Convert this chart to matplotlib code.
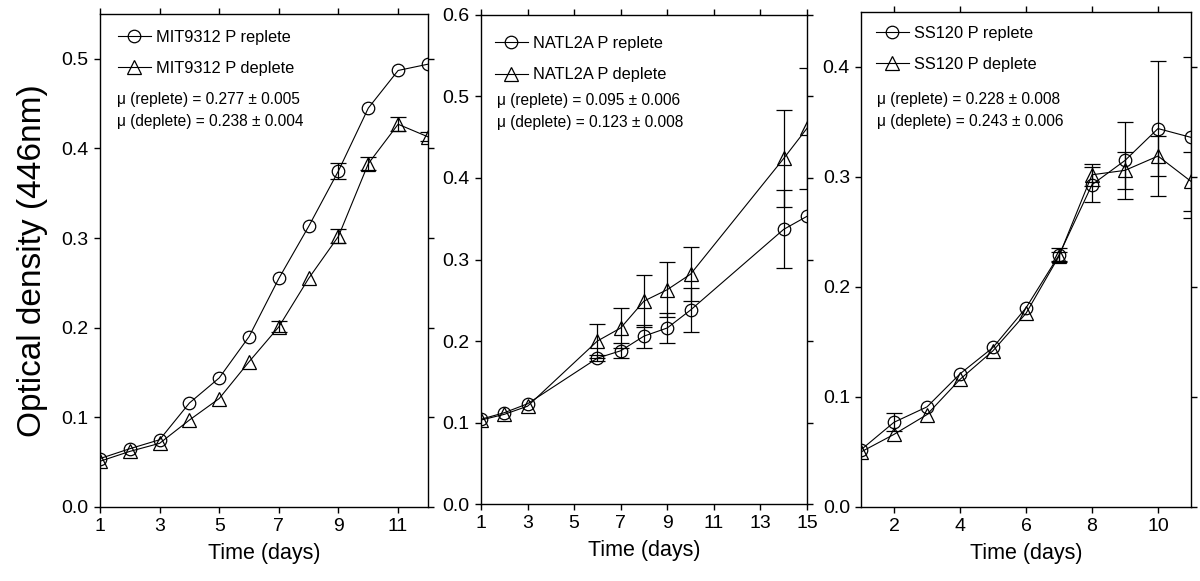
import matplotlib
matplotlib.use("Agg")
import matplotlib.pyplot as plt
import numpy as np

plt.rcParams['font.family'] = ['Liberation Sans', 'DejaVu Sans']

nan = np.nan

# MIT9312
mit_days = [1, 2, 3, 4, 5, 6, 7, 8, 9, 10, 11, 12]
mit_rep = [0.054, 0.065, 0.075, 0.116, 0.144, 0.190, 0.255, 0.313, 0.375, 0.445, 0.487, 0.494]
mit_rep_err = [nan, nan, nan, nan, nan, nan, nan, nan, 0.009, nan, nan, nan]
mit_dep = [0.051, 0.062, 0.071, 0.097, 0.121, 0.162, 0.201, 0.255, 0.302, 0.383, 0.427, 0.413]
mit_dep_err = [nan, nan, nan, nan, nan, nan, 0.006, nan, 0.008, 0.007, 0.008, 0.005]

# NATL2A
natl_days = [1, 2, 3, 6, 7, 8, 9, 10, 14, 15]
natl_rep = [0.104, 0.112, 0.123, 0.179, 0.188, 0.206, 0.216, 0.238, 0.337, 0.353]
natl_rep_err = [nan, nan, nan, 0.004, 0.009, 0.014, 0.018, 0.027, 0.048, nan]
natl_dep = [0.103, 0.110, 0.120, 0.200, 0.216, 0.249, 0.263, 0.282, 0.424, 0.461]
natl_dep_err = [nan, nan, nan, 0.021, 0.025, 0.032, 0.034, 0.033, 0.060, 0.074]

# SS120
ss_days = [1, 2, 3, 4, 5, 6, 7, 8, 9, 10, 11]
ss_rep = [0.052, 0.077, 0.091, 0.121, 0.145, 0.181, 0.229, 0.293, 0.315, 0.344, 0.336]
ss_rep_err = [nan, 0.008, nan, nan, nan, nan, 0.006, 0.016, 0.035, 0.061, 0.073]
ss_dep = [0.050, 0.066, 0.084, 0.116, 0.142, 0.176, 0.228, 0.302, 0.306, 0.319, 0.296]
ss_dep_err = [nan, nan, nan, nan, nan, nan, 0.004, 0.010, 0.017, 0.018, 0.027]

panels = [
    dict(name="MIT9312", days=mit_days, rep=mit_rep, rep_err=mit_rep_err,
         dep=mit_dep, dep_err=mit_dep_err, mu=("0.277 ± 0.005", "0.238 ± 0.004"),
         xlim=(1, 12), xticks=[1, 3, 5, 7, 9, 11], ylim=(0, 0.55),
         yticks=[0.0, 0.1, 0.2, 0.3, 0.4, 0.5],
         rect=[0.0833, 0.1274, 0.2733, 0.8485], leg=(0.055, 0.968), mutxt=(0.052, 0.826)),
    dict(name="NATL2A", days=natl_days, rep=natl_rep, rep_err=natl_rep_err,
         dep=natl_dep, dep_err=natl_dep_err, mu=("0.095 ± 0.006", "0.123 ± 0.008"),
         xlim=(1, 15), xticks=[1, 3, 5, 7, 9, 11, 13, 15], ylim=(0, 0.6),
         yticks=[0.0, 0.1, 0.2, 0.3, 0.4, 0.5, 0.6],
         rect=[0.4008, 0.1325, 0.2717, 0.8417], leg=(0.043, 0.957), mutxt=(0.049, 0.826)),
    dict(name="SS120", days=ss_days, rep=ss_rep, rep_err=ss_rep_err,
         dep=ss_dep, dep_err=ss_dep_err, mu=("0.228 ± 0.008", "0.243 ± 0.006"),
         xlim=(1, 11), xticks=[2, 4, 6, 8, 10], ylim=(0, 0.45),
         yticks=[0.0, 0.1, 0.2, 0.3, 0.4],
         rect=[0.7175, 0.1274, 0.275, 0.852], leg=(0.045, 0.972), mutxt=(0.048, 0.823)),
]

fig = plt.figure(figsize=(12, 5.81), dpi=100)

for i, p in enumerate(panels):
    ax = fig.add_axes(p["rect"])
    ax.errorbar(p["days"], p["rep"], yerr=p["rep_err"], fmt="none", ecolor="black",
                elinewidth=0.9, capsize=5.5, capthick=0.9)
    ax.errorbar(p["days"], p["dep"], yerr=p["dep_err"], fmt="none", ecolor="black",
                elinewidth=0.9, capsize=5.5, capthick=0.9)
    ax.plot(p["days"], p["rep"], "-o", color="black", lw=0.8, ms=9, mfc="none",
            mec="black", mew=0.9, label=p["name"] + " P replete")
    ax.plot(p["days"], p["dep"], "-^", color="black", lw=0.8, ms=10, mfc="none",
            mec="black", mew=0.9, label=p["name"] + " P deplete")

    ax.set_xlim(*p["xlim"])
    ax.set_ylim(*p["ylim"])
    ax.set_xticks(p["xticks"])
    ax.set_yticks(p["yticks"])
    ax.set_yticklabels(["%.1f" % v for v in p["yticks"]])
    ax.tick_params(direction="out", top=True, right=True, length=4, width=1,
                   labelsize=14, pad=4)
    for s in ax.spines.values():
        s.set_linewidth(1.0)
    ax.set_xlabel("Time (days)", fontsize=15.5, labelpad=6)

    ax.legend(loc="upper left", bbox_to_anchor=p["leg"], borderaxespad=0, borderpad=0,
              frameon=False, fontsize=11.8, handlelength=2.0, handletextpad=0.3,
              labelspacing=1.0)
    ax.text(p["mutxt"][0], p["mutxt"][1], "μ (replete) = " + p["mu"][0],
            transform=ax.transAxes, fontsize=11.2, va="center", ha="left")
    ax.text(p["mutxt"][0], p["mutxt"][1] - 0.045, "μ (deplete) = " + p["mu"][1],
            transform=ax.transAxes, fontsize=11.2, va="center", ha="left")

    if i == 0:
        ax.set_ylabel("Optical density (446nm)", fontsize=24, labelpad=10)

fig.savefig("out.png", dpi=100)
